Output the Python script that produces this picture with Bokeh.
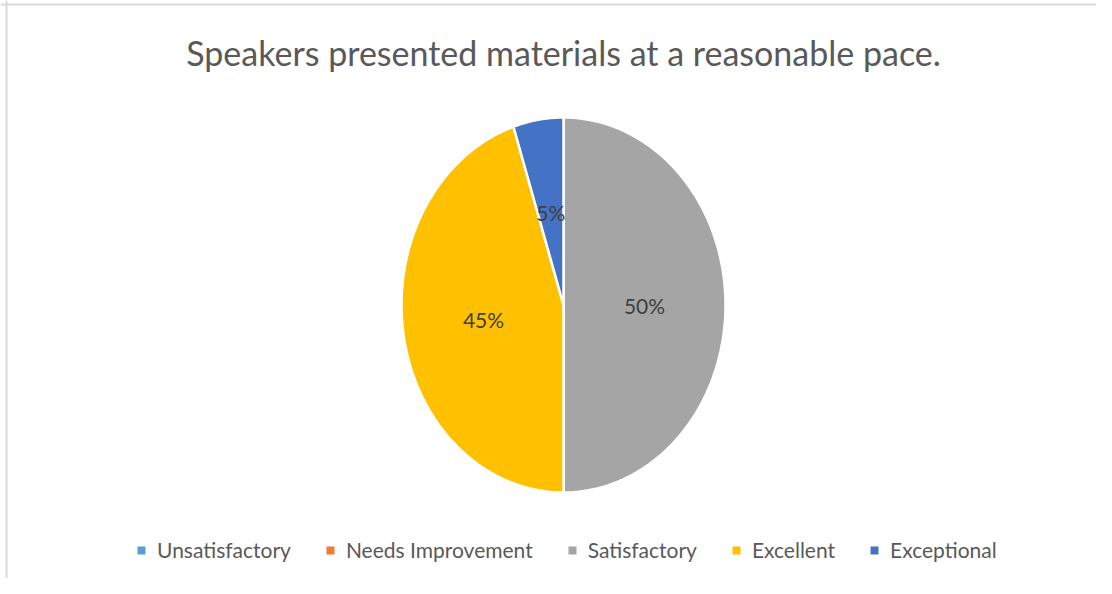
import math
from bokeh.plotting import figure
from bokeh.models import ColumnDataSource, Legend, LegendItem, Label, Span
from bokeh.core.properties import value
from bokeh.embed import file_html
from bokeh.resources import INLINE

# ---- data ----
title_text = "Speakers presented materials at a reasonable pace."
categories = ["Unsatisfactory", "Needs Improvement", "Satisfactory", "Excellent", "Exceptional"]
percents = [0, 0, 50, 45, 5]
colors = ["#5B9BD5", "#ED7D31", "#A5A5A5", "#FFC000", "#4472C4"]

FONT = "Lato"
W, H = 1096, 578
# pie centre / radii in screen px (layout)
cx, cy = 563, 304.5
rx, ry = 162, 187.5

x0 = -cx / rx
x1 = (W - cx) / rx
y1 = cy / ry
y0 = -(H - cy) / ry

p = figure(width=W, height=H, output_backend="svg", toolbar_location=None,
           x_range=(x0, x1), y_range=(y0, y1), min_border=0,
           match_aspect=False)
p.axis.visible = False
p.grid.visible = False
p.outline_line_color = None
p.background_fill_color = "white"
p.border_fill_color = "white"

# build slice polygons from the data (clockwise from 12 o'clock)
total = sum(percents)
xs, ys, lx, ly, ltxt = [], [], [], [], []
cum = 0.0
for v in percents:
    f0 = cum / total
    f1 = (cum + v) / total
    n = max(2, int(200 * (f1 - f0)) + 2)
    px = [0.0]
    py = [0.0]
    for k in range(n + 1):
        a = 2 * math.pi * (f0 + (f1 - f0) * k / n)
        px.append(math.sin(a))
        py.append(math.cos(a))
    xs.append(px)
    ys.append(py)
    if v > 0:
        am = 2 * math.pi * (f0 + f1) / 2
        lx.append(0.5 * math.sin(am))
        ly.append(0.5 * math.cos(am))
        ltxt.append(f"{v}%")
    cum += v

src = ColumnDataSource(dict(xs=xs, ys=ys, color=colors, cat=categories))
r = p.patches("xs", "ys", source=src, fill_color="color", line_color="white",
              line_width=2.5)

lsrc = ColumnDataSource(dict(x=lx, y=ly, t=ltxt))
p.text("x", "y", text="t", source=lsrc, text_align="center", text_baseline="middle",
       text_font=value(FONT), text_font_size="21px", text_color="#404040")

# title
p.add_layout(Label(x=0, y=1.347, text=title_text, text_align="center",
                   text_baseline="middle", text_font=FONT, text_font_size="34px",
                   text_color="#595959"))

# top and left chart border
p.add_layout(Span(location=y1 - 4.0 / ry, dimension="width", line_color="#D9D9D9", line_width=2))
p.add_layout(Span(location=x0 + 6.0 / rx, dimension="height", line_color="#D9D9D9", line_width=2))

# legend swatches (invisible proxies holding one NaN row, one colour each)
nan = float("nan")
proxies = []
for c in colors:
    proxies.append(p.quad(left=[nan], right=[nan], top=[nan], bottom=[nan],
                          fill_color=c, line_color=None))

items = [LegendItem(label=cat, renderers=[pr]) for cat, pr in zip(categories, proxies)]
legend = Legend(items=items, orientation="horizontal", location=(136, 16),
                glyph_width=10, glyph_height=10, label_standoff=11, spacing=34,
                padding=0, margin=0, border_line_color=None, background_fill_alpha=0,
                label_text_font=FONT, label_text_font_size="21px",
                label_text_color="#595959")
p.add_layout(legend)

open("out.html", "w").write(file_html(p, INLINE))
